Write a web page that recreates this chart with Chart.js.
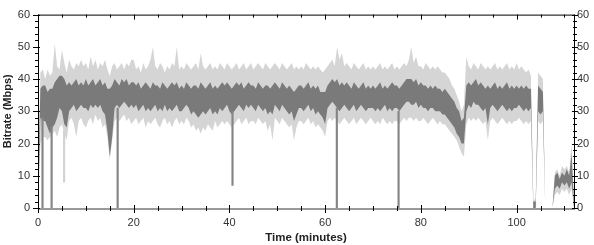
<!DOCTYPE html>
<html><head><meta charset="utf-8">
<script src="https://cdn.jsdelivr.net/npm/chart.js@4.4.1/dist/chart.umd.min.js"></script>
<style>html,body{margin:0;padding:0;background:#fff}#wrap{width:594px;height:245px}</style>
</head><body><div id="wrap"><canvas id="c" width="594" height="245"></canvas></div>
<script>
// sampling step of the series, in minutes
const STEP_MIN = 0.5;
// light gray band: per-interval peak bitrate envelope (Mbps)
const peakHigh = [
 8,42,43,40,43,41,42,51,44,43,
 49,45,42,46,44,43,45,44,46,44,
 45,43,47,44,46,43,45,44,46,43,
 41,44,45,43,44,45,43,45,44,46,
 46,43,44,42,45,43,44,46,50,44,
 43,45,44,42,44,43,45,44,50,43,
 44,43,45,44,43,44,45,43,48,44,
 43,44,45,43,44,43,45,44,43,45,
 44,43,44,45,43,44,45,43,44,45,
 43,44,45,44,43,45,44,43,44,45,
 44,43,45,44,43,44,45,43,44,43,
 44,43,45,44,43,44,43,44,43,42,
 43,44,45,46,44,50,46,48,44,45,
 44,43,45,44,43,44,45,43,44,43,
 44,43,44,45,43,44,43,44,45,43,
 44,43,44,45,44,46,50,45,47,44,
 44,43,45,44,43,44,43,44,43,42,
 42,41,40,38,37,35,33,30,32,47,
 44,43,45,44,43,45,44,43,44,43,
 44,45,43,44,43,44,45,43,44,43,
 45,43,44,43,42,43,41,2,3,42,
 41,40,0,0,0,0,11,12,10,13,
 12,13,11,20,2
];
const peakLow = [
 0,20,22,22,21,22,23,24,22,25,
 26,23,21,27,28,26,22,27,28,26,
 25,27,28,26,29,27,28,25,26,22,
 15,21,27,28,27,28,29,27,28,26,
 27,28,26,27,28,25,27,26,27,28,
 26,25,27,28,26,27,25,27,28,26,
 27,26,28,27,25,26,24,25,23,25,
 24,26,25,24,27,25,26,27,26,27,
 26,25,26,27,28,26,27,28,26,27,
 27,26,28,27,26,27,24,26,21,28,
 27,26,28,27,26,25,26,21,25,27,
 27,26,27,28,26,27,25,26,25,24,
 22,27,28,27,28,27,26,27,28,27,
 26,27,28,26,27,28,27,26,27,28,
 27,26,27,26,28,27,26,27,26,27,
 27,26,27,28,27,28,28,27,28,27,
 27,28,27,26,27,28,27,26,27,26,
 26,25,24,23,22,21,19,17,16,26,
 28,27,28,27,28,27,26,27,21,27,
 28,27,26,27,28,27,26,27,26,27,
 27,28,27,26,27,26,27,0,0,27,
 26,27,0,0,0,0,4,5,4,6,
 5,6,4,6,0
];
// dark gray band: average bitrate envelope (Mbps)
const avgHigh = [
 7,37,38,38,36,37,37,39,40,41,
 41,40,38,39,38,39,40,38,39,38,
 40,38,39,40,38,39,40,38,39,37,
 37,38,40,39,38,40,39,40,38,39,
 39,38,39,37,38,39,38,37,39,38,
 38,37,39,38,37,38,39,38,39,37,
 38,37,39,38,37,38,38,37,39,38,
 37,38,39,37,38,37,38,39,38,39,
 38,37,38,39,38,39,37,38,39,38,
 38,37,39,38,37,38,38,37,38,39,
 38,37,39,38,37,38,37,36,37,38,
 38,37,38,39,37,38,37,38,36,36,
 36,38,39,40,39,40,38,39,38,39,
 38,37,39,38,37,38,39,37,38,37,
 38,37,38,39,37,38,37,38,39,38,
 38,37,38,39,40,40,40,39,40,38,
 39,38,38,37,38,37,38,37,37,36,
 37,36,35,34,33,31,30,27,28,38,
 39,38,39,40,38,39,38,37,38,37,
 38,39,37,38,37,38,39,37,38,37,
 38,37,38,37,38,37,37,2,2,38,
 37,36,0,0,0,0,10,11,9,11,
 10,12,10,17,1
];
const avgLow = [
 0,28,27,27,25,23,25,26,28,31,
 30,26,25,30,31,32,30,31,32,31,
 31,30,32,31,32,31,32,30,29,24,
 16,22,31,32,31,32,33,32,31,32,
 31,32,30,31,32,30,31,30,31,32,
 30,31,30,32,30,31,30,31,32,30,
 30,31,32,31,29,30,29,28,29,30,
 29,30,31,29,30,29,31,30,31,32,
 30,29,30,31,32,31,30,32,31,32,
 31,30,32,31,30,31,29,30,29,32,
 31,30,32,31,30,29,30,27,29,31,
 31,30,31,32,30,31,29,30,29,28,
 26,31,32,33,32,31,30,31,32,31,
 30,31,32,30,31,32,31,30,31,31,
 31,30,31,30,31,32,30,31,30,31,
 31,30,31,32,33,33,32,32,33,31,
 32,31,31,30,31,31,30,30,30,29,
 29,28,27,26,25,23,22,20,20,30,
 32,31,33,32,32,31,30,31,26,31,
 32,31,30,31,32,31,30,31,30,31,
 31,32,31,30,31,30,31,0,0,30,
 29,30,0,0,0,0,6,7,6,8,
 7,8,6,8,0
];
// short dropouts (single samples) in the average bitrate
const dropMinutes = [1.1, 3.0, 16.8, 40.8, 62.6, 75.5];
const dropBottom  = [0, 0, 0, 7, 0, 0];
const dropTop     = [28, 25, 31, 30, 31, 30];
// short dip in the peak envelope
const peakDipMinutes = [5.3];
const peakDipBottom  = [8];
const peakDipTop     = [24];

const xTickValues = [0, 20, 40, 60, 80, 100];
const yTickValues = [0, 10, 20, 30, 40, 50, 60];
const X_MAX = 112, Y_MAX = 60;
const xTitle = 'Time (minutes)';
const yTitle = 'Bitrate (Mbps)';

const minutes = peakHigh.map((_, i) => i * STEP_MIN);
const pts = arr => arr.map((v, i) => ({x: minutes[i], y: v}));
const spans = (ts, lo, hi) => ts.map((t, i) => ({x: t, y: [lo[i], hi[i]]}));

const tickFont = {family: "'Liberation Sans', Arial, sans-serif", size: 11};
const titleFontX = {family: "'Liberation Sans', Arial, sans-serif", size: 11.5, weight: 'bold'};
const titleFontY = {family: "'Liberation Sans', Arial, sans-serif", size: 11, weight: 'bold'};

const axisPlugin = {
  id: 'axesDeco',
  afterDraw(chart) {
    const {ctx, chartArea: {left, right, top, bottom}, scales: {x, y}} = chart;
    ctx.save();
    ctx.fillStyle = '#000';
    ctx.fillRect(left, top, right - left + 1, 1);
    ctx.fillRect(left, top, 1, bottom - top);
    ctx.fillRect(right, top, 1, bottom - top);
    ctx.fillStyle = '#9a9a9a';
    ctx.fillRect(left, bottom, right - left + 1, 2);
    ctx.fillStyle = '#000';
    for (let v = 0; v <= Y_MAX; v += 2) {
      const py = Math.round(y.getPixelForValue(v));
      if (v % 10 === 0) { ctx.fillRect(left - 5, py, 7, 1); ctx.fillRect(right - 2, py, 6, 1); }
      else { ctx.fillRect(left - 3, py, 4, 1); ctx.fillRect(right - 1, py, 4, 1); }
    }
    for (let v = 0; v <= X_MAX; v += 5) {
      const px = Math.round(x.getPixelForValue(v));
      if (v % 20 === 0) { ctx.fillRect(px, bottom - 3, 1, 8); ctx.fillRect(px, top, 1, 5); }
      else { ctx.fillRect(px, bottom - 2, 1, 5); ctx.fillRect(px, top, 1, 3); }
    }
    ctx.restore();
  }
};

const setTicks = vals => s => { s.ticks = vals.map(v => ({value: v})); };

new Chart(document.getElementById('c'), {
  type: 'line',
  data: {
    datasets: [
      {type: 'bar', data: spans(dropMinutes, dropBottom, dropTop), backgroundColor: '#858585', barThickness: 1.5, borderWidth: 0},
      {type: 'bar', data: spans(peakDipMinutes, peakDipBottom, peakDipTop), backgroundColor: '#d2d2d2', barThickness: 1.5, borderWidth: 0},
      {data: pts(avgHigh), fill: '+1', backgroundColor: '#7a7a7a', borderWidth: 0, pointRadius: 0, tension: 0},
      {data: pts(avgLow), fill: false, borderWidth: 0, pointRadius: 0, tension: 0},
      {data: pts(peakHigh), fill: '+1', backgroundColor: '#d5d5d5', borderWidth: 0, pointRadius: 0, tension: 0},
      {data: pts(peakLow), fill: false, borderWidth: 0, pointRadius: 0, tension: 0}
    ]
  },
  options: {
    responsive: false, animation: false, devicePixelRatio: 1,
    layout: {padding: {top: 5, left: 0, right: 0, bottom: 0}},
    plugins: {legend: {display: false}, tooltip: {enabled: false}},
    scales: {
      x: {
        type: 'linear', min: 0, max: X_MAX, offset: false,
        afterBuildTicks: setTicks(xTickValues),
        afterFit: s => { s.height = 37; },
        grid: {display: false, drawTicks: false, offset: false}, border: {display: false},
        ticks: {padding: 8, color: '#333', font: tickFont, maxRotation: 0, autoSkip: false},
        title: {display: true, text: xTitle, color: '#222', font: titleFontX, padding: {top: 0, bottom: 0}}
      },
      y: {
        position: 'left', min: 0, max: Y_MAX, stacked: false,
        afterBuildTicks: setTicks(yTickValues),
        afterFit: s => { s.width = 38; },
        grid: {display: false, drawTicks: false}, border: {display: false},
        ticks: {padding: 8, color: '#333', font: tickFont},
        title: {display: true, text: yTitle, color: '#222', font: titleFontY, padding: {top: 1, bottom: 0}}
      },
      y2: {
        position: 'right', min: 0, max: Y_MAX,
        afterBuildTicks: setTicks(yTickValues),
        afterFit: s => { s.width = 20; },
        grid: {display: false, drawTicks: false}, border: {display: false},
        ticks: {padding: 3, color: '#333', font: tickFont}
      }
    }
  },
  plugins: [axisPlugin]
});
</script>
</body></html>
